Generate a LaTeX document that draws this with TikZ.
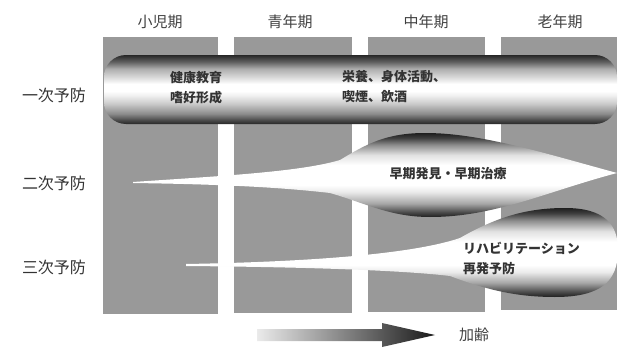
\documentclass[tikz,border=0pt]{standalone}
\usepackage{fontspec}
\setmainfont{Noto Sans CJK JP}
\pgfdeclareverticalshading{capshade}{100bp}{color(0bp)=(black!85); color(25bp)=(black!85); color(28bp)=(black!70); color(32.5bp)=(black!45); color(40bp)=(black!20); color(46bp)=(black!5); color(49bp)=(white); color(54bp)=(white); color(59bp)=(black!15); color(65bp)=(black!32); color(70bp)=(black!62); color(75bp)=(black!85); color(100bp)=(black!85)}
\pgfdeclareverticalshading{secshade}{100bp}{color(0bp)=(black!88); color(25bp)=(black!88); color(28bp)=(black!70); color(33bp)=(black!35); color(40bp)=(black!8); color(44bp)=(white); color(56bp)=(white); color(62bp)=(black!12); color(68bp)=(black!45); color(72bp)=(black!75); color(75bp)=(black!88); color(100bp)=(black!88)}
\pgfdeclareverticalshading{tershade}{100bp}{color(0bp)=(black!88); color(25bp)=(black!88); color(28bp)=(black!70); color(33bp)=(black!35); color(39bp)=(black!8); color(43bp)=(white); color(56bp)=(white); color(62bp)=(black!12); color(68bp)=(black!45); color(72bp)=(black!75); color(75bp)=(black!88); color(100bp)=(black!88)}
\begin{document}
\begin{tikzpicture}[x=1pt,y=-1pt,
  lbl/.style={font=\fontsize{16}{16}\selectfont, text=black!80, inner sep=0pt},
  hdr/.style={font=\fontsize{15}{15}\selectfont, text=black!75, inner sep=0pt},
  inner/.style={font=\fontsize{13}{20}\selectfont\bfseries, text=black!80, inner sep=0pt, align=left},
  colbox/.style={fill=black!40, draw=none}]
\useasboundingbox (0,0) rectangle (622,348);
% columns
\fill[colbox] (103,37) rectangle (218,314);
\fill[colbox] (234,37) rectangle (352,313);
\fill[colbox] (368,37) rectangle (485,312);
\fill[colbox] (501,37) rectangle (617,310);
% headers
\node[hdr] (h1) at (160,22) {小児期};
\node[hdr] (h2) at (290,22) {青年期};
\node[hdr] (h3) at (426,22) {中年期};
\node[hdr] (h4) at (560,22) {老年期};
% row labels
\node[lbl] (r1) at (54,95) {一次予防};
\node[lbl] (r2) at (54,183) {二次予防};
\node[lbl] (r3) at (54,267) {三次予防};
% primary capsule
\shade[shading=capshade, rounded corners=22] (104,55) rectangle (617,124);
% secondary lens
\shade[shading=secshade] (133,182) .. controls (220,176) and (300,172) .. (340,160)
  .. controls (365,145) and (385,133) .. (425,133)
  .. controls (480,133) and (540,152) .. (617,173)
  .. controls (545,192) and (495,217) .. (430,217)
  .. controls (390,217) and (365,203) .. (330,193)
  .. controls (270,186) and (200,184) .. (133,183) -- cycle;
% tertiary blob
\shade[shading=tershade] (186,264) .. controls (300,262) and (410,255) .. (460,238)
  .. controls (495,218) and (525,208) .. (565,208)
  .. controls (605,208) and (618,225) .. (618,250)
  .. controls (618,282) and (600,297) .. (555,297)
  .. controls (510,297) and (480,287) .. (450,276)
  .. controls (400,270) and (300,267) .. (186,266) -- cycle;
% texts
\node[inner, anchor=west] (t1) at (170,88) {健康教育\\嗜好形成};
\node[inner, anchor=west] (t2) at (342,87) {栄養、身体活動、\\喫煙、飲酒};
\node[inner] (t3) at (448,174) {早期発見・早期治療};
\node[inner, anchor=west] (t4) at (463,258) {リハビリテーション\\再発予防};
% ageing arrow
\shade[left color=black!8, right color=black!90] (257,329) -- (382,329) -- (382,323) -- (435,335) -- (382,347) -- (382,341) -- (257,341) -- cycle;
\node[hdr] (age) at (474,335) {加齢};
\end{tikzpicture}
\end{document}
